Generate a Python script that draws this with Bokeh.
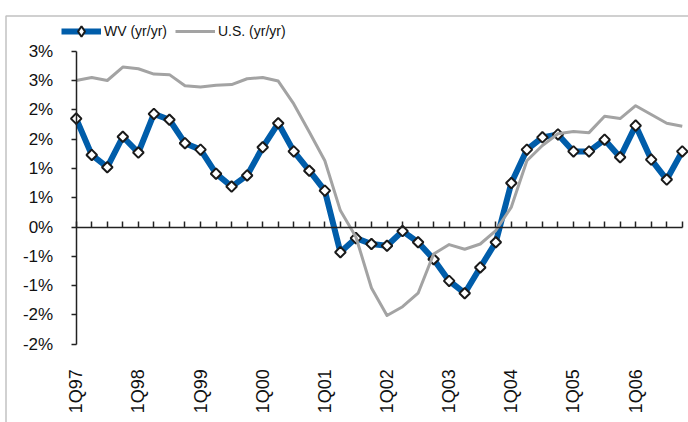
import math
from bokeh.plotting import figure
from bokeh.models import (LinearAxis, FixedTicker, Range1d, Legend, LegendItem,
                          PolyAnnotation)
from bokeh.embed import file_html
from bokeh.resources import INLINE

# ---------------- data ----------------
quarters = [f"{q}Q{yy:02d}" for yy in (97, 98, 99, 0, 1, 2, 3, 4, 5, 6) for q in (1, 2, 3, 4)]

wv = [1.85, 1.23, 1.02, 1.54, 1.27, 1.93, 1.83, 1.43, 1.32, 0.91,
      0.69, 0.88, 1.36, 1.77, 1.29, 0.96, 0.62, -0.43, -0.19, -0.29,
      -0.32, -0.07, -0.26, -0.55, -0.92, -1.13, -0.69, -0.26, 0.75, 1.32,
      1.53, 1.58, 1.29, 1.29, 1.49, 1.19, 1.73, 1.15, 0.81, 1.29]

us = [2.50, 2.55, 2.50, 2.73, 2.70, 2.61, 2.60, 2.41, 2.39, 2.42,
      2.43, 2.53, 2.55, 2.49, 2.10, 1.62, 1.13, 0.28, -0.17, -1.04,
      -1.51, -1.36, -1.13, -0.46, -0.30, -0.38, -0.29, -0.06, 0.34, 1.13,
      1.39, 1.59, 1.63, 1.61, 1.89, 1.85, 2.07, 1.92, 1.77, 1.72]

y_ticks = [3.0, 2.5, 2.0, 1.5, 1.0, 0.5, 0.0, -0.5, -1.0, -1.5, -2.0]
y_tick_labels = ["3%", "3%", "2%", "2%", "1%", "1%", "0%", "-1%", "-1%", "-2%", "-2%"]

x_label_ticks = [0, 4, 8, 12, 16, 20, 24, 28, 32, 36]
x_tick_labels = ["1Q97", "1Q98", "1Q99", "1Q00", "1Q01", "1Q02", "1Q03", "1Q04", "1Q05", "1Q06"]

series_names = ["WV (yr/yr)", "U.S. (yr/yr)"]

x = list(range(len(quarters)))

BLUE = "#005DAA"
GRAY = "#A3A3A3"
DARK = "#222222"
FONT = "Liberation Sans"

W, H = 688, 422
p = figure(width=W, height=H, output_backend="svg", toolbar_location=None,
           x_range=Range1d(-4.871, 39.40), y_range=Range1d(-3.336, 3.865),
           min_border_left=0, min_border_right=0, min_border_top=0,
           min_border_bottom=0, outline_line_color=None,
           background_fill_color="white", border_fill_color="white")
p.grid.visible = False

# value axis crossing at the first category
ya = p.yaxis[0]
ya.fixed_location = x[0]
ya.bounds = (y_ticks[-1], y_ticks[0])
ya.ticker = FixedTicker(ticks=y_ticks)
ya.major_label_overrides = {t: l for t, l in zip(y_ticks, y_tick_labels)}
ya.major_tick_out = 5
ya.major_tick_in = 0
ya.minor_tick_line_color = None
ya.axis_line_color = DARK
ya.axis_line_width = 1.5
ya.major_tick_line_color = DARK
ya.major_tick_line_width = 1.5
ya.major_label_standoff = 18
ya.major_label_text_font = FONT
ya.major_label_text_font_size = "17px"
ya.major_label_text_color = "#111111"

# category labels, placed low (at the bottom of the value axis)
xa = p.xaxis[0]
xa.fixed_location = y_ticks[-1]
xa.ticker = FixedTicker(ticks=x_label_ticks)
xa.major_label_overrides = {t: l for t, l in zip(x_label_ticks, x_tick_labels)}
xa.axis_line_color = None
xa.major_tick_line_color = None
xa.minor_tick_line_color = None
xa.major_tick_out = 0
xa.major_tick_in = 0
xa.major_label_standoff = 25
xa.major_label_orientation = math.pi / 2
xa.major_label_text_font = FONT
xa.major_label_text_font_size = "18px"
xa.major_label_text_color = "#111111"

# category axis line crossing at zero
za = LinearAxis(fixed_location=0, ticker=FixedTicker(ticks=x), bounds=(x[0], x[-1]))
za.axis_line_color = DARK
za.axis_line_width = 1.5
za.major_tick_line_color = DARK
za.major_tick_line_width = 1.5
za.major_tick_in = 6
za.major_tick_out = 0
za.minor_tick_line_color = None
za.major_label_text_color = None
za.major_label_text_font_size = "1px"
za.major_label_standoff = 0
p.add_layout(za, "below")

wv_line = p.line(x, wv, line_color=BLUE, line_width=6, line_join="round")
# legend swatch marker (legend glyphs are never rotated); tiny, hidden under the points
wv_key = p.scatter(x, wv, marker="diamond", size=1, fill_color="white",
                   line_color="#1a1a1a", line_width=2)
wv_pts = p.scatter(x, wv, marker="square", size=7.5, angle=math.pi / 4,
                   fill_color="white", line_color="#1a1a1a", line_width=2)
us_line = p.line(x, us, line_color=GRAY, line_width=3, line_join="round")

legend = Legend(items=[LegendItem(label=series_names[0], renderers=[wv_line, wv_key]),
                       LegendItem(label=series_names[1], renderers=[us_line])],
                location=(61, 378), orientation="horizontal",
                glyph_width=40, glyph_height=26, label_height=16,
                label_standoff=3, spacing=8, padding=2, margin=0,
                border_line_color=None, background_fill_color=None,
                label_text_font=FONT, label_text_font_size="14px",
                label_text_color="#111111")
p.add_layout(legend)

# chart-area border (left and top edges visible)
border = PolyAnnotation(xs=[5.5, 5.5, W + 20, W + 20], ys=[-20, H - 15.5, H - 15.5, -20],
                        xs_units="screen", ys_units="screen",
                        fill_color=None, line_color="#333333", line_width=1.5)
p.add_layout(border)

open("out.html", "w").write(file_html(p, INLINE))
